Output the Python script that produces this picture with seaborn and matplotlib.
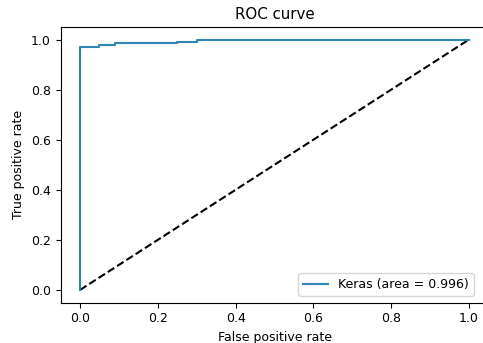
import matplotlib
matplotlib.use("Agg")
import matplotlib.pyplot as plt
import seaborn as sns
import pandas as pd

fpr = [0.0, 0.0, 0.004, 0.05, 0.05, 0.09, 0.09, 0.25, 0.25, 0.30, 0.30, 1.0]
tpr = [0.0, 0.970, 0.970, 0.970, 0.977, 0.977, 0.986, 0.986, 0.990, 0.990, 1.0, 1.0]
diag = [0.0, 1.0]
label = "Keras (area = 0.996)"

fig = plt.figure(figsize=(4.83, 3.43), dpi=100)
ax = fig.add_axes([60.5 / 483, 1 - 302.5 / 343, 428 / 483, 275.5 / 343])
df = pd.DataFrame({"fpr": fpr, "tpr": tpr})
sns.lineplot(x=diag, y=diag, ax=ax, color="black", linestyle="--", estimator=None, sort=False)
sns.lineplot(data=df, x="fpr", y="tpr", ax=ax, color="#2f86b5", estimator=None, sort=False, label=label)
ax.set_xlim(-0.05, 1.05)
ax.set_ylim(-0.05, 1.05)
ax.set_xlabel("False positive rate", fontsize=9)
ax.set_ylabel("True positive rate", fontsize=9)
ax.set_title("ROC curve", fontsize=10.8)
ax.tick_params(labelsize=9)
ax.legend(loc="lower right", fontsize=9, bbox_to_anchor=(0.966, 0.024), borderaxespad=0)
fig.savefig("out.png", dpi=100)
